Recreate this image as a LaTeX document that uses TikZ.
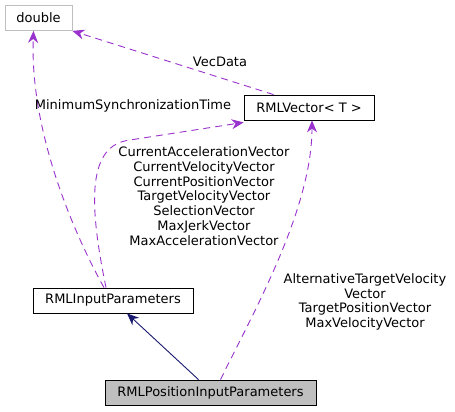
\documentclass[tikz,border=0pt]{standalone}
\usepackage{fontspec}
\setmainfont{DejaVu Sans}
\usetikzlibrary{arrows.meta, positioning}
\definecolor{CGorchid}{HTML}{9A32CD}
\definecolor{CGnavy}{HTML}{191970}
\definecolor{CGgrayline}{HTML}{BFBFBF}
\definecolor{CGfill}{HTML}{BFBFBF}
\tikzset{
  cgbox/.style={rectangle, draw=black, line width=0.8pt, fill=white, inner sep=0pt,
    minimum height=25pt, align=center},
  cgext/.style={cgbox, draw=CGgrayline},
  cgmain/.style={cgbox, fill=CGfill},
  cgmem/.style={-{Stealth[length=12pt,width=10pt,fill=CGorchid]}, dash pattern=on 7pt off 5pt,
    line width=0.9pt, draw=CGorchid},
  cginh/.style={-{Stealth[length=12pt,width=10pt,fill=CGnavy]}, line width=0.9pt, draw=CGnavy},
  cglbl/.style={align=center, inner sep=0pt},
}

\begin{document}
\begin{tikzpicture}[x=1pt, y=-1pt, font=\fontsize{13}{14.8}\selectfont]
  \useasboundingbox (0,0) rectangle (455,412);
  \node[cgext,  minimum width=67pt]  (dbl) at (38.5,18)    {double};
  \node[cgbox,  minimum width=130pt] (vec) at (309,107.5)  {RMLVector< T >};
  \node[cgbox,  minimum width=160pt] (inp) at (113,300.5)  {RMLInputParameters};
  \node[cgmain, minimum width=211pt] (pos) at (210.5,392.5){RMLPositionInputParameters};
  \coordinate (bend) at (130,140);
  \draw[cgmem] ([xshift=30pt]vec.north west) -- (dbl.south east);
  \draw[cgmem] ([xshift=-9pt]inp.north) .. controls (72,230) and (30,130) .. ([xshift=-5pt]dbl.south);
  \draw[cgmem] ([xshift=-7pt]inp.north) .. controls (88,200) and (88,145) .. (bend) -- ([yshift=-2pt]vec.south west);
  \draw[cgmem] ([xshift=10pt]pos.north) .. controls (252,315) and (312,210) .. ([xshift=3pt]vec.south);
  \draw[cginh] ([xshift=-12pt]pos.north) -- ([xshift=14pt]inp.south);
  \node[cglbl] (l1) at (220,62)  {VecData};
  \node[cglbl] (l2) at (133,106) {MinimumSynchronizationTime};
  \node[cglbl] (l3) at (204,196) {CurrentAccelerationVector\\CurrentVelocityVector\\CurrentPositionVector\\TargetVelocityVector\\SelectionVector\\MaxJerkVector\\MaxAccelerationVector};
  \node[cglbl] (l4) at (365,302) {AlternativeTargetVelocity\\Vector\\TargetPositionVector\\MaxVelocityVector};
\end{tikzpicture}
\end{document}
